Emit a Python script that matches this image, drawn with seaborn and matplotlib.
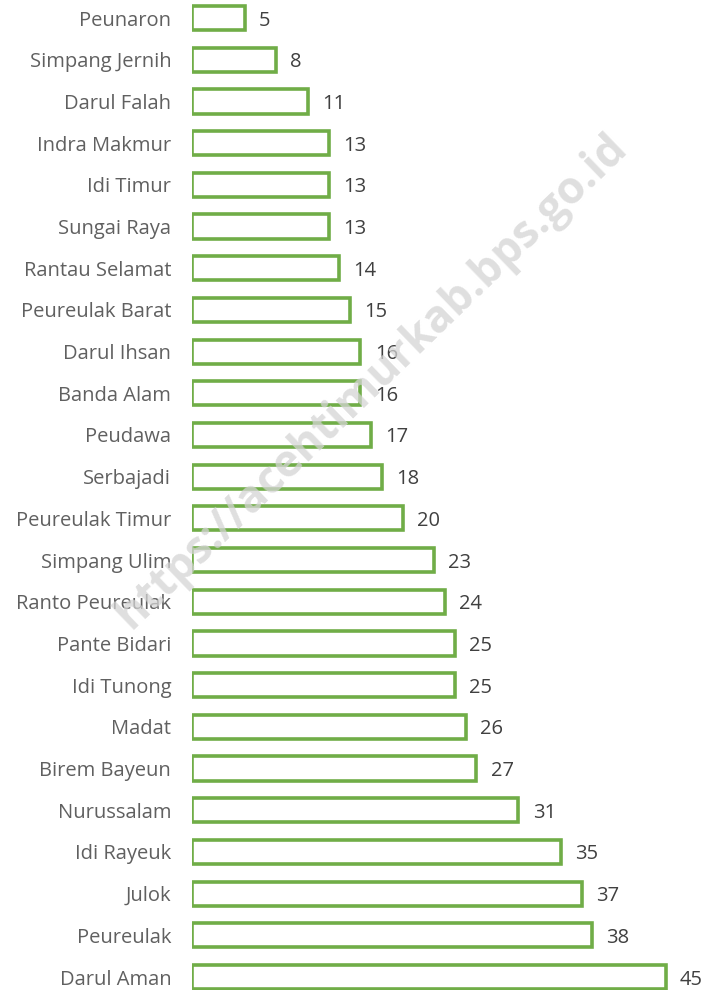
import pandas as pd
import seaborn as sns
import matplotlib
import matplotlib.pyplot as plt

matplotlib.use("Agg")

# data
kecamatan = [
    "Peunaron", "Simpang Jernih", "Darul Falah", "Indra Makmur", "Idi Timur",
    "Sungai Raya", "Rantau Selamat", "Peureulak Barat", "Darul Ihsan",
    "Banda Alam", "Peudawa", "Serbajadi", "Peureulak Timur", "Simpang Ulim",
    "Ranto Peureulak", "Pante Bidari", "Idi Tunong", "Madat", "Birem Bayeun",
    "Nurussalam", "Idi Rayeuk", "Julok", "Peureulak", "Darul Aman",
]
jumlah = [5, 8, 11, 13, 13, 13, 14, 15, 16, 16, 17, 18, 20, 23, 24, 25, 25,
          26, 27, 31, 35, 37, 38, 45]

df = pd.DataFrame({"kecamatan": kecamatan, "jumlah": jumlah})

sns.set_theme(style="white")
plt.rcParams["font.family"] = ["Open Sans", "DejaVu Sans"]

fig = plt.figure(figsize=(7.08, 9.90), dpi=100)
ax = fig.add_axes([192 / 708, 0, 1 - 192 / 708, 1])

sns.barplot(data=df, x="jumlah", y="kecamatan", orient="h", color="white",
            saturation=1, edgecolor="#70ad47", linewidth=2.6, width=0.58, ax=ax)

ax.set_xlim(0, 49.0)
ax.set_ylim(23.31, -0.432)

for i, v in enumerate(jumlah):
    ax.text(v + 1.35, i, str(v), va="center_baseline", ha="left", fontsize=14.5,
            color="#404040")

ax.set_xlabel("")
ax.set_ylabel("")
ax.set_xticks([])
ax.tick_params(axis="y", length=0, pad=15, labelsize=14.5, labelcolor="#606060")
for s in ax.spines.values():
    s.set_visible(False)

# watermark
fig.text(0.525, 0.615, "https://acehtimurkab.bps.go.id", rotation=44,
         ha="center", va="center", fontsize=32, fontweight="bold",
         color="#d4d4d4", alpha=0.75, zorder=10)

fig.savefig("out.png", dpi=100)
